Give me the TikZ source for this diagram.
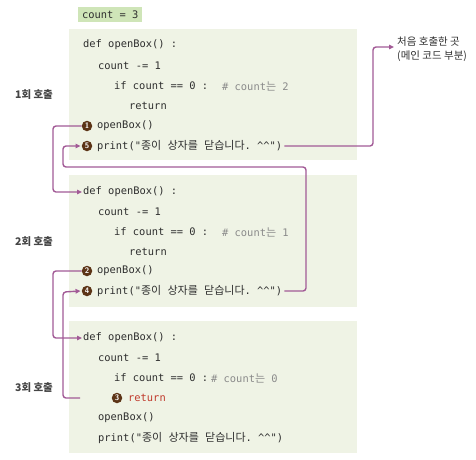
\documentclass[tikz,border=0pt]{standalone}
\usepackage{fontspec}
\setmonofont{DejaVu Sans Mono}
\newfontfamily\kr{Noto Sans CJK KR}
\usetikzlibrary{arrows.meta}
\definecolor{boxbg}{HTML}{EFF3E5}
\definecolor{tagbg}{HTML}{CFE5B8}
\definecolor{flowc}{HTML}{A25A96}
\definecolor{numc}{HTML}{5C3416}
\definecolor{codec}{HTML}{2E2E2E}
\definecolor{labc}{HTML}{454545}
\definecolor{cmtc}{HTML}{8A8A8A}
\definecolor{retc}{HTML}{C0392B}
\tikzset{
  codebox/.style={fill=boxbg, draw=none},
  code/.style={anchor=west, inner sep=0pt, font=\ttfamily\fontsize{10.4}{12}\selectfont, text=codec},
  cmt/.style={code, text=cmtc},
  num/.style={circle, fill=numc, inner sep=0pt, minimum size=10.5pt, text=white, font=\sffamily\bfseries\fontsize{8}{8}\selectfont},
  calllabel/.style={inner sep=0pt, font=\kr\bfseries\fontsize{10.5}{12}\selectfont, text=labc},
  flow/.style={draw=flowc, line width=1.4pt, rounded corners=3pt},
  flowarr/.style={flow, -{Triangle[length=5pt,width=4.5pt]}}
}
\newcommand{\hg}[1]{{\kr\fontsize{11}{12}\selectfont #1}}
\newcommand{\boxmsg}{print("\hg{종이}\ \hg{상자를}\ \hg{닫습니다}. \textasciicircum\textasciicircum")}
\begin{document}
\begin{tikzpicture}[x=1pt,y=-1pt]
\useasboundingbox (0,0) rectangle (476,459);
% tag
\node[fill=tagbg, anchor=west, inner sep=0pt, minimum height=15pt, minimum width=64pt, font=\ttfamily\fontsize{10.4}{12}\selectfont, text=codec] (tag) at (78,14.5) {count = 3};
% boxes
\fill[codebox] (69,29) rectangle (357,160);
\fill[codebox] (69,175) rectangle (357,307);
\fill[codebox] (69,321) rectangle (357,453);
% box 1
\node[code] (d1) at (83,45) {def openBox() :};
\node[code] (c1) at (98,66) {count -= 1};
\node[code] (i1) at (114,86) {if count == 0 :};
\node[cmt] (m1) at (222,86) {\# count\hg{는} 2};
\node[code] (r1) at (129,106) {return};
\node[num] (n1) at (87,126) {1};
\node[code] (o1) at (97,126) {openBox()};
\node[num] (n5) at (87,146) {5};
\node[code] (p5) at (97,146) {\boxmsg};
% box 2
\node[code] (d2) at (83,192) {def openBox() :};
\node[code] (c2) at (98,212) {count -= 1};
\node[code] (i2) at (114,232) {if count == 0 :};
\node[cmt] (m2) at (222,232) {\# count\hg{는} 1};
\node[code] (r2) at (129,252) {return};
\node[num] (n2) at (87,271) {2};
\node[code] (o2) at (97,271) {openBox()};
\node[num] (n4) at (87,291) {4};
\node[code] (p4) at (97,291) {\boxmsg};
% box 3
\node[code] (d3) at (83,338) {def openBox() :};
\node[code] (c3) at (98,358) {count -= 1};
\node[code] (i3) at (114,378) {if count == 0 :};
\node[cmt] (m3) at (211,378) {\# count\hg{는} 0};
\node[num] (n3) at (117,398) {3};
\node[code, text=retc] (r3) at (128,398) {return};
\node[code] (o3) at (98,418) {openBox()};
\node[code] (p3) at (98,438) {\boxmsg};
% labels
\node[calllabel] (l1) at (34,95) {1회 호출};
\node[calllabel] (l2) at (34,242) {2회 호출};
\node[calllabel] (l3) at (34,388) {3회 호출};
\node[inner sep=0pt, anchor=west, align=left, font=\kr\fontsize{10.5}{14}\selectfont, text=codec] (main) at (397,49) {처음 호출한 곳\\(메인 코드 부분)};
% coordinates
\coordinate (k1) at (373,47);
\coordinate (k2) at (306,167);
\coordinate (k3) at (63,167);
\coordinate (s5) at (80,398);
% flows
\draw[flowarr] ([xshift=2pt]p5.east) -| (k1) -- ([xshift=-3pt]main.west |- k1);
\draw[flowarr] (n1.west) -| (53,192) -- ([xshift=-1pt]d2.west);
\draw[flowarr] ([xshift=2pt]p4.east) -| (k2) -- (k3) |- ([xshift=-1pt]n5.west);
\draw[flowarr] (n2.west) -| (53,338) -- ([xshift=-1pt]d3.west);
\draw[flowarr] (s5) -| (63,292) -- ([xshift=-1pt]n4.west);
\end{tikzpicture}
\end{document}
